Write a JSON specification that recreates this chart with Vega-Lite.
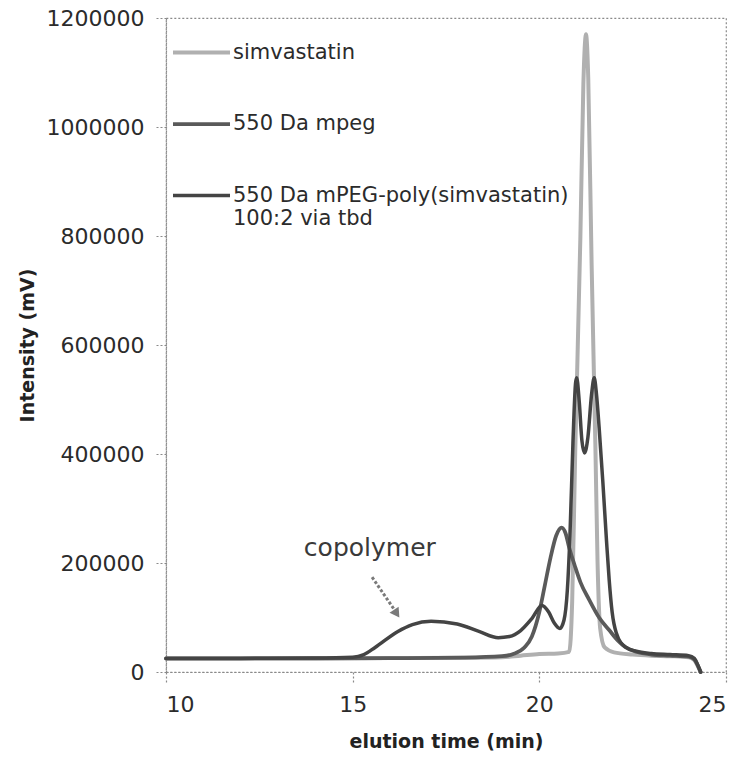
{
  "$schema": "https://vega.github.io/schema/vega-lite/v6.json",
  "width": 560,
  "height": 654,
  "autosize": {"type": "none"},
  "padding": {"left": 166, "top": 18, "right": 14, "bottom": 93},
  "background": "white",
  "config": {
    "font": "DejaVu Sans",
    "view": {"stroke": "#8a8a8a", "strokeDash": [2, 2], "strokeWidth": 1.2},
    "axis": {
      "grid": false,
      "domainColor": "#8a8a8a",
      "domainDash": [2, 2],
      "domainWidth": 1.2,
      "tickColor": "#8a8a8a",
      "tickDash": [2, 2],
      "tickSize": 10,
      "tickWidth": 1.2,
      "labelFont": "DejaVu Sans",
      "labelFontSize": 22,
      "labelColor": "#2b2b2b",
      "labelPadding": 12,
      "titleFont": "DejaVu Sans",
      "titleFontSize": 19,
      "titleFontWeight": "bold",
      "titleColor": "#222222"
    },
    "legend": {
      "orient": "none",
      "legendX": 5,
      "legendY": 4,
      "padding": 0,
      "title": null,
      "symbolType": "stroke",
      "symbolSize": 3249,
      "symbolStrokeWidth": 4,
      "labelFont": "DejaVu Sans",
      "labelFontSize": 21,
      "labelColor": "#2b2b2b",
      "labelOffset": 1,
      "labelLimit": 500,
      "rowPadding": 30.5
    }
  },
  "datasets": {
    "curves": [
      {"series": "simvastatin", "time": 10, "intensity": 25000},
      {"series": "simvastatin", "time": 12, "intensity": 25000},
      {"series": "simvastatin", "time": 14, "intensity": 25000},
      {"series": "simvastatin", "time": 16, "intensity": 25500},
      {"series": "simvastatin", "time": 18, "intensity": 26000},
      {"series": "simvastatin", "time": 19, "intensity": 27000},
      {"series": "simvastatin", "time": 19.5, "intensity": 30000},
      {"series": "simvastatin", "time": 20, "intensity": 33000},
      {"series": "simvastatin", "time": 20.5, "intensity": 34000},
      {"series": "simvastatin", "time": 20.8, "intensity": 37000},
      {"series": "simvastatin", "time": 20.88, "intensity": 130000},
      {"series": "simvastatin", "time": 20.96, "intensity": 400000},
      {"series": "simvastatin", "time": 21.1, "intensity": 800000},
      {"series": "simvastatin", "time": 21.18, "intensity": 1080000},
      {"series": "simvastatin", "time": 21.25, "intensity": 1170000},
      {"series": "simvastatin", "time": 21.31, "intensity": 1090000},
      {"series": "simvastatin", "time": 21.4, "intensity": 750000},
      {"series": "simvastatin", "time": 21.5, "intensity": 420000},
      {"series": "simvastatin", "time": 21.56, "intensity": 200000},
      {"series": "simvastatin", "time": 21.63, "intensity": 80000},
      {"series": "simvastatin", "time": 21.75, "intensity": 45000},
      {"series": "simvastatin", "time": 22, "intensity": 36000},
      {"series": "simvastatin", "time": 22.5, "intensity": 32000},
      {"series": "simvastatin", "time": 23, "intensity": 30000},
      {"series": "simvastatin", "time": 23.5, "intensity": 29000},
      {"series": "simvastatin", "time": 24, "intensity": 27000},
      {"series": "simvastatin", "time": 24.15, "intensity": 22000},
      {"series": "simvastatin", "time": 24.25, "intensity": 10000},
      {"series": "simvastatin", "time": 24.32, "intensity": 0},

      {"series": "550 Da mpeg", "time": 10, "intensity": 25000},
      {"series": "550 Da mpeg", "time": 12, "intensity": 25000},
      {"series": "550 Da mpeg", "time": 14, "intensity": 25000},
      {"series": "550 Da mpeg", "time": 16, "intensity": 25500},
      {"series": "550 Da mpeg", "time": 18, "intensity": 26500},
      {"series": "550 Da mpeg", "time": 19, "intensity": 29000},
      {"series": "550 Da mpeg", "time": 19.3, "intensity": 33000},
      {"series": "550 Da mpeg", "time": 19.6, "intensity": 45000},
      {"series": "550 Da mpeg", "time": 19.8, "intensity": 65000},
      {"series": "550 Da mpeg", "time": 20, "intensity": 110000},
      {"series": "550 Da mpeg", "time": 20.15, "intensity": 160000},
      {"series": "550 Da mpeg", "time": 20.3, "intensity": 210000},
      {"series": "550 Da mpeg", "time": 20.45, "intensity": 250000},
      {"series": "550 Da mpeg", "time": 20.6, "intensity": 265000},
      {"series": "550 Da mpeg", "time": 20.7, "intensity": 255000},
      {"series": "550 Da mpeg", "time": 20.8, "intensity": 228000},
      {"series": "550 Da mpeg", "time": 20.95, "intensity": 195000},
      {"series": "550 Da mpeg", "time": 21.1, "intensity": 165000},
      {"series": "550 Da mpeg", "time": 21.34, "intensity": 132000},
      {"series": "550 Da mpeg", "time": 21.6, "intensity": 100000},
      {"series": "550 Da mpeg", "time": 21.87, "intensity": 77000},
      {"series": "550 Da mpeg", "time": 22.1, "intensity": 58000},
      {"series": "550 Da mpeg", "time": 22.3, "intensity": 46000},
      {"series": "550 Da mpeg", "time": 22.6, "intensity": 37000},
      {"series": "550 Da mpeg", "time": 23, "intensity": 32000},
      {"series": "550 Da mpeg", "time": 23.5, "intensity": 30000},
      {"series": "550 Da mpeg", "time": 24, "intensity": 28000},
      {"series": "550 Da mpeg", "time": 24.15, "intensity": 23000},
      {"series": "550 Da mpeg", "time": 24.25, "intensity": 11000},
      {"series": "550 Da mpeg", "time": 24.32, "intensity": 0},

      {"series": "550 Da mPEG-poly(simvastatin)", "time": 10, "intensity": 25000},
      {"series": "550 Da mPEG-poly(simvastatin)", "time": 12, "intensity": 25000},
      {"series": "550 Da mPEG-poly(simvastatin)", "time": 14, "intensity": 25500},
      {"series": "550 Da mPEG-poly(simvastatin)", "time": 15, "intensity": 27000},
      {"series": "550 Da mPEG-poly(simvastatin)", "time": 15.3, "intensity": 32000},
      {"series": "550 Da mPEG-poly(simvastatin)", "time": 15.6, "intensity": 45000},
      {"series": "550 Da mPEG-poly(simvastatin)", "time": 16.2, "intensity": 74000},
      {"series": "550 Da mPEG-poly(simvastatin)", "time": 16.6, "intensity": 87000},
      {"series": "550 Da mPEG-poly(simvastatin)", "time": 17.1, "intensity": 93000},
      {"series": "550 Da mPEG-poly(simvastatin)", "time": 17.8, "intensity": 88000},
      {"series": "550 Da mPEG-poly(simvastatin)", "time": 18.4, "intensity": 74000},
      {"series": "550 Da mPEG-poly(simvastatin)", "time": 18.9, "intensity": 63000},
      {"series": "550 Da mPEG-poly(simvastatin)", "time": 19.2, "intensity": 65000},
      {"series": "550 Da mPEG-poly(simvastatin)", "time": 19.5, "intensity": 76000},
      {"series": "550 Da mPEG-poly(simvastatin)", "time": 19.8, "intensity": 98000},
      {"series": "550 Da mPEG-poly(simvastatin)", "time": 20.07, "intensity": 122000},
      {"series": "550 Da mPEG-poly(simvastatin)", "time": 20.25, "intensity": 110000},
      {"series": "550 Da mPEG-poly(simvastatin)", "time": 20.4, "intensity": 90000},
      {"series": "550 Da mPEG-poly(simvastatin)", "time": 20.55, "intensity": 80000},
      {"series": "550 Da mPEG-poly(simvastatin)", "time": 20.66, "intensity": 95000},
      {"series": "550 Da mPEG-poly(simvastatin)", "time": 20.75, "intensity": 150000},
      {"series": "550 Da mPEG-poly(simvastatin)", "time": 20.82, "intensity": 250000},
      {"series": "550 Da mPEG-poly(simvastatin)", "time": 20.9, "intensity": 420000},
      {"series": "550 Da mPEG-poly(simvastatin)", "time": 20.97, "intensity": 530000},
      {"series": "550 Da mPEG-poly(simvastatin)", "time": 21.0, "intensity": 540000},
      {"series": "550 Da mPEG-poly(simvastatin)", "time": 21.07, "intensity": 495000},
      {"series": "550 Da mPEG-poly(simvastatin)", "time": 21.14, "intensity": 425000},
      {"series": "550 Da mPEG-poly(simvastatin)", "time": 21.21, "intensity": 402000},
      {"series": "550 Da mPEG-poly(simvastatin)", "time": 21.3, "intensity": 430000},
      {"series": "550 Da mPEG-poly(simvastatin)", "time": 21.4, "intensity": 510000},
      {"series": "550 Da mPEG-poly(simvastatin)", "time": 21.47, "intensity": 540000},
      {"series": "550 Da mPEG-poly(simvastatin)", "time": 21.53, "intensity": 510000},
      {"series": "550 Da mPEG-poly(simvastatin)", "time": 21.6, "intensity": 450000},
      {"series": "550 Da mPEG-poly(simvastatin)", "time": 21.7, "intensity": 350000},
      {"series": "550 Da mPEG-poly(simvastatin)", "time": 21.8, "intensity": 240000},
      {"series": "550 Da mPEG-poly(simvastatin)", "time": 21.87, "intensity": 170000},
      {"series": "550 Da mPEG-poly(simvastatin)", "time": 21.95, "intensity": 110000},
      {"series": "550 Da mPEG-poly(simvastatin)", "time": 22.06, "intensity": 72000},
      {"series": "550 Da mPEG-poly(simvastatin)", "time": 22.3, "intensity": 46000},
      {"series": "550 Da mPEG-poly(simvastatin)", "time": 22.6, "intensity": 38000},
      {"series": "550 Da mPEG-poly(simvastatin)", "time": 23, "intensity": 34000},
      {"series": "550 Da mPEG-poly(simvastatin)", "time": 23.5, "intensity": 32000},
      {"series": "550 Da mPEG-poly(simvastatin)", "time": 24, "intensity": 30000},
      {"series": "550 Da mPEG-poly(simvastatin)", "time": 24.15, "intensity": 25000},
      {"series": "550 Da mPEG-poly(simvastatin)", "time": 24.25, "intensity": 12000},
      {"series": "550 Da mPEG-poly(simvastatin)", "time": 24.32, "intensity": 0}
    ],
    "arrow": [
      {"time": 15.52, "intensity": 174000, "time2": 16.12, "intensity2": 114000}
    ],
    "arrowhead": [
      {"time": 16.18, "intensity": 107000}
    ],
    "notes": [
      {"label": "copolymer", "time": 15.46, "intensity": 227000}
    ]
  },
  "encoding": {
    "x": {
      "field": "time",
      "type": "quantitative",
      "scale": {"domain": [10, 25], "nice": false, "zero": false},
      "axis": {"values": [10, 15, 20, 25], "title": "elution time (min)", "titlePadding": 17}
    },
    "y": {
      "field": "intensity",
      "type": "quantitative",
      "scale": {"domain": [0, 1200000], "nice": false},
      "axis": {
        "values": [0, 200000, 400000, 600000, 800000, 1000000, 1200000],
        "format": "d",
        "title": "Intensity (mV)",
        "titlePadding": 9
      }
    }
  },
  "layer": [
    {
      "data": {"name": "curves"},
      "mark": {"type": "line", "interpolate": "monotone", "strokeJoin": "round", "strokeCap": "round"},
      "encoding": {
        "color": {
          "field": "series",
          "type": "nominal",
          "sort": ["simvastatin", "550 Da mpeg", "550 Da mPEG-poly(simvastatin)"],
          "scale": {
            "domain": ["simvastatin", "550 Da mpeg", "550 Da mPEG-poly(simvastatin)"],
            "range": ["#b0b0b0", "#5a5a5a", "#444444"]
          },
          "legend": {
            "labelExpr": "datum.label == '550 Da mPEG-poly(simvastatin)' ? ['550 Da mPEG-poly(simvastatin)', '100:2 via tbd'] : datum.label"
          }
        },
        "strokeWidth": {
          "field": "series",
          "type": "nominal",
          "scale": {
            "domain": ["simvastatin", "550 Da mpeg", "550 Da mPEG-poly(simvastatin)"],
            "range": [4, 3.5, 4.5]
          },
          "legend": null
        }
      }
    },
    {
      "data": {"name": "arrow"},
      "mark": {"type": "rule", "color": "#7a7a7a", "strokeWidth": 3, "strokeDash": [3, 2]},
      "encoding": {
        "x2": {"field": "time2"},
        "y2": {"field": "intensity2"}
      }
    },
    {
      "data": {"name": "arrowhead"},
      "mark": {"type": "point", "shape": "triangle-down", "angle": 326, "filled": true, "size": 120, "color": "#7a7a7a", "opacity": 1}
    },
    {
      "data": {"name": "notes"},
      "mark": {"type": "text", "fontSize": 25, "color": "#3a3a3a", "align": "center", "baseline": "middle", "font": "DejaVu Sans"},
      "encoding": {"text": {"field": "label"}}
    }
  ]
}
